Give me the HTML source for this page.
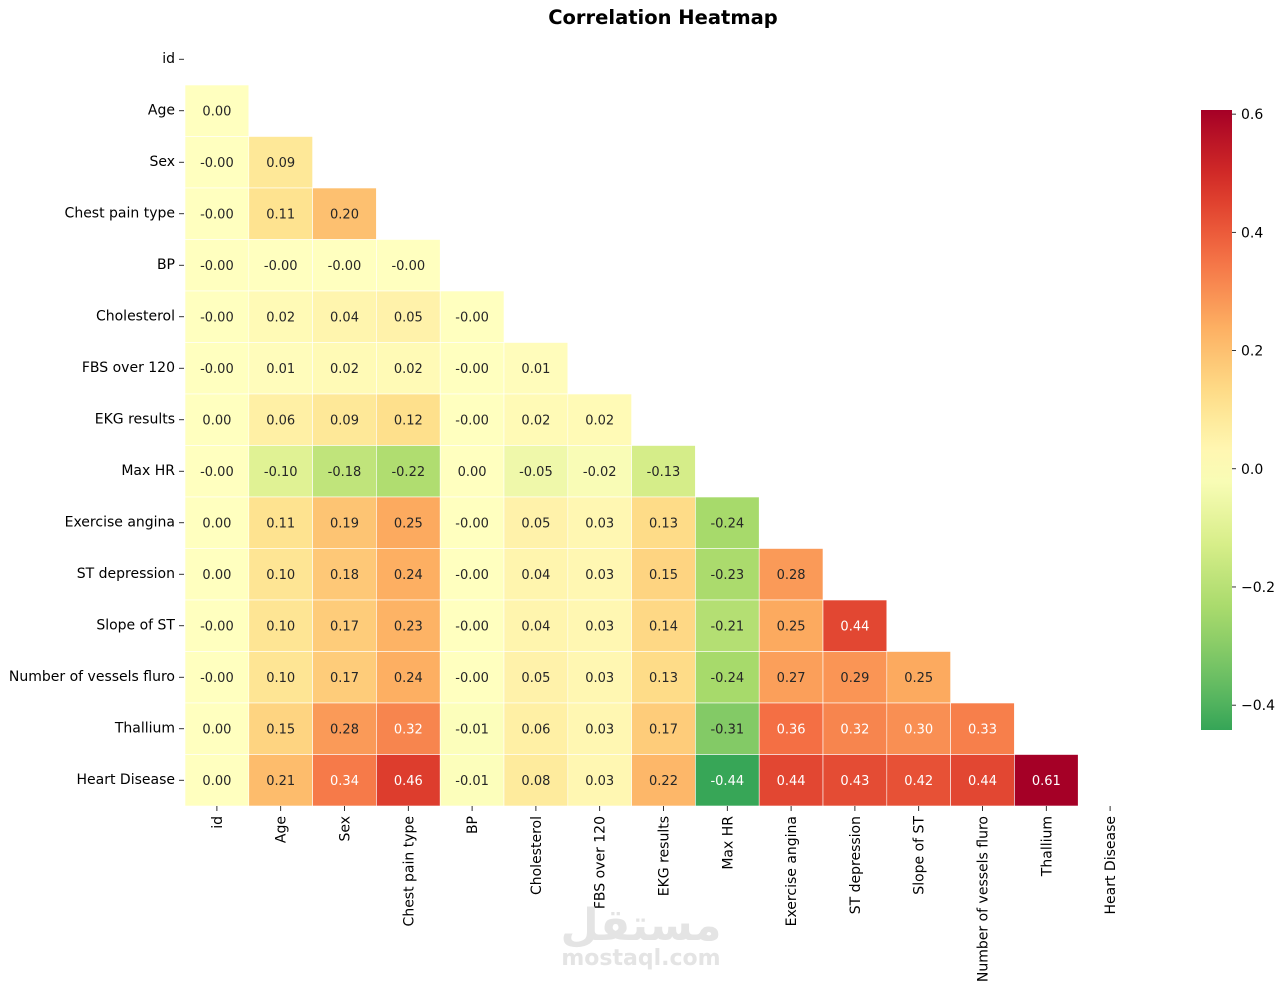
<!DOCTYPE html>
<html><head><meta charset="utf-8"><style>
html,body{margin:0;padding:0;background:#fff;width:1284px;height:990px;overflow:hidden}
text{font-family:"DejaVu Sans","Liberation Sans",sans-serif}
</style></head><body>
<svg id="chart" width="1284" height="990" xmlns="http://www.w3.org/2000/svg">
<text x="663" y="24" text-anchor="middle" font-size="19.5" font-weight="bold" fill="#000">Correlation Heatmap</text>
<g id="cells"></g><g id="ylab"></g><g id="xlab"></g><g id="cbar"></g>
<text x="641" y="940" text-anchor="middle" font-size="44" font-weight="bold" fill="#e4e4e4" font-family="'DejaVu Sans',sans-serif">مستقل</text>
<text x="641" y="965" text-anchor="middle" font-size="22" font-weight="bold" fill="#e4e4e4">mostaql.com</text>
</svg>
<script>
const labels=["id","Age","Sex","Chest pain type","BP","Cholesterol","FBS over 120","EKG results","Max HR","Exercise angina","ST depression","Slope of ST","Number of vessels fluro","Thallium","Heart Disease"];
const rowsData=[
[],
[0.00],
[-0,0.09],
[-0,0.11,0.20],
[-0,-0,-0,-0],
[-0,0.02,0.04,0.05,-0],
[-0,0.01,0.02,0.02,-0,0.01],
[0.00,0.06,0.09,0.12,-0,0.02,0.02],
[-0,-0.10,-0.18,-0.22,0.00,-0.05,-0.02,-0.13],
[0.00,0.11,0.19,0.25,-0,0.05,0.03,0.13,-0.24],
[0.00,0.10,0.18,0.24,-0,0.04,0.03,0.15,-0.23,0.28],
[-0,0.10,0.17,0.23,-0,0.04,0.03,0.14,-0.21,0.25,0.44],
[-0,0.10,0.17,0.24,-0,0.05,0.03,0.13,-0.24,0.27,0.29,0.25],
[0.00,0.15,0.28,0.32,-0.01,0.06,0.03,0.17,-0.31,0.36,0.32,0.30,0.33],
[0.00,0.21,0.34,0.46,-0.01,0.08,0.03,0.22,-0.44,0.44,0.43,0.42,0.44,0.61]
];
const ticks=[0.6,0.4,0.2,0.0,-0.2,-0.4];
const vmin=-0.442, vmax=0.607, center=0;
const rng=Math.max(vmax-center,center-vmin);
const cm=["#006837","#1a9850","#66bd63","#a6d96a","#d9ef8b","#ffffbf","#fee08b","#fdae61","#f46d43","#d73027","#a50026"];
const NS="http://www.w3.org/2000/svg";
function hex(h){return [1,3,5].map(i=>parseInt(h.substr(i,2),16));}
function cmapRaw(t){t=Math.max(0,Math.min(1,t));const p=t*(cm.length-1);const i=Math.min(cm.length-2,Math.floor(p));const f=p-i;const a=hex(cm[i]),b=hex(cm[i+1]);return a.map((v,k)=>Math.round(v+(b[k]-v)*f));}
function colorOf(v){return cmapRaw((v-(center-rng))/(2*rng));}
function rgb(c){return `rgb(${c[0]},${c[1]},${c[2]})`;}
function lum(c){const l=c.map(v=>{v/=255;return v<=0.03928?v/12.92:Math.pow((v+0.055)/1.055,2.4)});return 0.2126*l[0]+0.7152*l[1]+0.0722*l[2];}
function fmt(v){return (v<0||Object.is(v,-0))?"-"+Math.abs(v).toFixed(2):v.toFixed(2);}
const x0=185,y0=33.5,cw=63.8,ch=51.5,n=labels.length;
const xs=i=>x0+i*cw, ys=j=>y0+j*ch;
function mk(tag,attrs,parent){const e=document.createElementNS(NS,tag);for(const k in attrs)e.setAttribute(k,attrs[k]);parent.appendChild(e);return e;}
const gc=document.getElementById('cells');
rowsData.forEach((row,j)=>row.forEach((v,i)=>{
 const c=colorOf(v);
 const r=mk('rect',{x:xs(i),y:ys(j),width:cw,height:ch,fill:rgb(c),stroke:'#fff','stroke-width':0.6},gc);
 
 
 const t=mk('text',{x:xs(i)+cw/2,y:ys(j)+ch/2+4.5,'text-anchor':'middle','font-size':13,fill:lum(c)>0.408?'#262626':'#fff'},gc);
 
 
 t.textContent=fmt(v);
}));
const gy=document.getElementById('ylab'),gx=document.getElementById('xlab');
labels.forEach((l,k)=>{
 const cy=ys(k)+ch/2;
 mk('line',{x1:179,x2:184,y1:cy,y2:cy,stroke:'#000','stroke-width':0.8},gy);
 const t=mk('text',{x:175,y:cy+3.5,'text-anchor':'end','font-size':14,fill:'#000'},gy);
 
 
 t.textContent=l;
 const cx=xs(k)+cw/2, by=ys(n);
 mk('line',{x1:cx,x2:cx,y1:by,y2:by+5,stroke:'#000','stroke-width':0.8},gx);
 const u=mk('text',{x:0,y:0,'text-anchor':'end','font-size':14,fill:'#000',transform:`translate(${cx+5},${by+10}) rotate(-90)`},gx);
 
 
 u.textContent=l;
});
const gb=document.getElementById('cbar');
const cbx=1201,cbw=31,cbt=110,cbb=730;
const defs=mk('defs',{},gb);const lg=mk('linearGradient',{id:'cg',x1:0,y1:1,x2:0,y2:0},defs);
for(let s=0;s<=20;s++){mk('stop',{offset:s/20,'stop-color':rgb(colorOf(vmin+(vmax-vmin)*s/20))},lg);}
const cr=mk('rect',{x:cbx,y:cbt,width:cbw,height:cbb-cbt,fill:'url(#cg)'},gb);


const cyv=v=>cbb-(v-vmin)/(vmax-vmin)*(cbb-cbt);
ticks.forEach(v=>{
 const y=cyv(v);
 mk('line',{x1:cbx+cbw,x2:cbx+cbw+4,y1:y,y2:y,stroke:'#000','stroke-width':0.8},gb);
 const t=mk('text',{x:cbx+cbw+9,y:y+5,'font-size':14,fill:'#000'},gb);
 
 
 t.textContent=(v<0?'\u2212':'')+Math.abs(v).toFixed(1);
});
</script>
</body></html>
